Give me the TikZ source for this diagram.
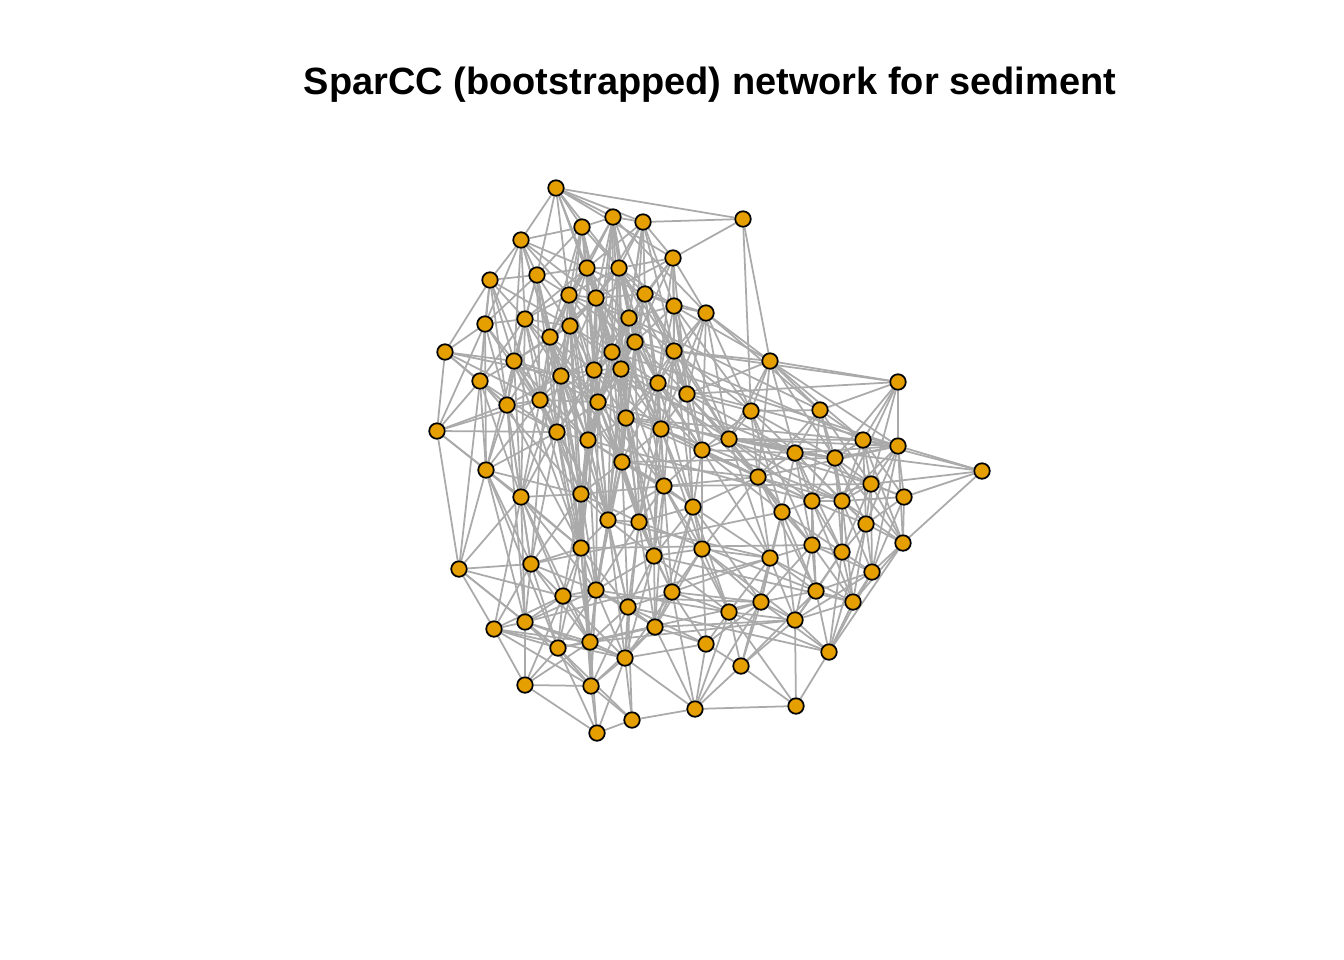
\documentclass[tikz,border=0pt]{standalone}
\usepackage{fontspec}
\setmainfont{Liberation Sans}
\usetikzlibrary{backgrounds}
\definecolor{vorange}{HTML}{E69F00}
\definecolor{egray}{HTML}{AAAAAA}

\begin{document}
\begin{tikzpicture}[x=0.01cm,y=-0.01cm,
    vertex/.style={circle,fill=vorange,draw=black,line width=0.5pt,inner sep=0pt,minimum size=0.155cm},
    edge/.style={egray,line width=0.5pt}]
  \useasboundingbox (0,0) rectangle (1344,960);
  \node[font=\bfseries\fontsize{10.8}{12}\selectfont,inner sep=0pt] (title) at (710,85) {SparCC (bootstrapped) network for sediment};
  % taxa
  \foreach \n/\x/\y in {1/556/188,2/743/219,3/613/217,4/643/222,5/582/227,6/521/240,7/673/258,8/587/268,9/619/268,10/537/275,
      11/490/280,12/569/295,13/596/298,14/645/294,15/674/306,16/706/313,17/525/319,18/570/326,19/485/324,20/629/318,
      21/550/337,22/635/342,23/612/352,24/674/351,25/445/352,26/514/361,27/770/361,28/594/370,29/621/369,30/561/376,
      31/480/381,32/658/383,33/898/382,34/540/400,35/507/405,36/598/402,37/687/394,38/626/418,39/751/411,40/820/410,
      41/437/431,42/557/432,43/588/440,44/661/429,45/729/439,46/863/440,47/898/446,48/702/450,49/795/453,50/835/458,
      51/622/462,52/486/470,53/758/477,54/982/471,55/871/484,56/664/486,57/581/494,58/521/497,59/904/497,60/812/501,
      61/842/501,62/693/507,63/782/512,64/608/520,65/639/522,66/866/524,67/581/548,68/702/549,69/654/556,70/812/545,
      71/842/552,72/903/543,73/770/558,74/459/569,75/531/564,76/872/572,77/596/590,78/563/596,79/672/592,80/816/591,
      81/761/602,82/853/602,83/628/607,84/729/612,85/494/629,86/525/622,87/655/627,88/795/620,89/590/642,90/558/648,
      91/706/644,92/625/658,93/829/652,94/741/666,95/525/685,96/591/686,97/695/709,98/796/706,99/632/720,100/597/733}
    \node[vertex] (n\n) at (\x,\y) {};
  % associations
  \begin{scope}[on background layer]
    \foreach \a/\b in {1/2,1/3,1/4,1/5,1/6,1/8,1/9,1/10,1/12,1/13,2/4,2/7,2/27,2/39,
        3/4,3/5,3/8,3/9,3/12,3/13,3/14,3/20,3/22,3/23,3/28,3/36,4/7,4/8,4/9,4/13,4/14,4/15,4/20,4/24,4/29,
        5/6,5/8,5/9,5/10,5/12,5/13,5/18,5/21,5/23,6/8,6/10,6/11,6/12,6/13,6/17,6/19,6/21,6/26,
        7/9,7/13,7/14,7/15,7/16,7/20,7/22,7/24,7/32,8/9,8/10,8/12,8/13,8/14,8/17,8/18,8/20,8/21,8/23,8/28,8/29,8/36,8/38,
        9/12,9/13,9/14,9/15,9/18,9/20,9/22,9/23,9/24,9/28,9/29,9/32,9/37,10/11,10/12,10/17,10/18,10/19,10/21,10/26,10/30,
        11/17,11/18,11/19,11/25,11/26,11/31,11/35,12/13,12/17,12/18,12/20,12/21,12/23,12/28,12/30,12/34,12/36,12/42,
        13/14,13/18,13/20,13/21,13/22,13/23,13/28,13/29,13/30,13/36,13/38,13/43,14/15,14/16,14/20,14/22,14/23,14/24,14/29,14/32,14/37,14/44,
        15/16,15/20,15/22,15/24,15/27,15/32,15/37,15/45,16/24,16/27,16/32,16/37,16/39,16/45,16/48,
        17/18,17/19,17/21,17/26,17/30,17/31,17/34,17/35,18/21,18/23,18/26,18/28,18/29,18/30,18/34,18/36,18/42,18/43,
        19/25,19/26,19/31,19/35,19/41,19/52,20/22,20/23,20/24,20/28,20/29,20/32,20/36,20/38,20/44,20/51,
        21/26,21/28,21/30,21/34,21/35,21/36,21/42,21/43,21/57,22/23,22/24,22/28,22/29,22/32,22/36,22/38,22/44,22/51,22/56,
        23/28,23/29,23/30,23/32,23/36,23/38,23/43,23/51,23/64,24/27,24/32,24/37,24/38,24/44,24/45,24/48,24/62,
        25/26,25/30,25/31,25/35,25/41,26/30,26/31,26/34,26/35,26/42,26/52,26/58,27/33,27/37,27/39,27/40,27/45,27/47,27/49,27/53,
        28/29,28/30,28/34,28/36,28/38,28/42,28/43,28/51,28/57,28/67,29/32,29/36,29/38,29/43,29/44,29/51,29/56,29/65,29/69,
        30/34,30/35,30/36,30/42,30/43,30/57,30/58,31/35,31/41,31/42,31/52,31/58,32/37,32/38,32/44,32/48,32/51,32/56,32/62,32/65,
        33/37,33/40,33/46,33/47,33/50,33/55,33/61,34/35,34/36,34/41,34/42,34/43,34/52,34/57,34/58,34/64,35/41,35/42,35/52,35/58,35/75,
        36/38,36/42,36/43,36/51,36/57,36/64,36/65,36/67,36/77,37/39,37/44,37/45,37/48,37/53,37/62,
        38/43,38/44,38/51,38/56,38/64,38/65,38/69,38/79,39/40,39/45,39/48,39/49,39/50,39/53,39/63,40/46,40/49,40/50,40/53,40/55,40/60,
        41/42,41/52,41/74,42/43,42/52,42/57,42/58,42/67,42/75,43/51,43/57,43/64,43/67,43/77,43/83,44/48,44/51,44/56,44/62,44/65,44/68,
        45/46,45/47,45/48,45/49,45/50,45/53,45/54,45/60,45/61,45/63,45/70,46/47,46/50,46/54,46/55,46/59,46/61,46/66,
        47/49,47/50,47/53,47/54,47/55,47/59,47/61,47/66,47/72,48/49,48/53,48/56,48/60,48/62,48/63,48/68,
        49/50,49/53,49/60,49/61,49/63,49/66,49/70,50/55,50/60,50/61,50/66,50/71,51/56,51/57,51/64,51/65,51/69,51/77,51/83,
        52/57,52/58,52/74,52/75,52/86,53/60,53/61,53/62,53/63,53/68,53/70,53/73,54/55,54/59,54/72,55/59,55/60,55/61,55/66,55/72,55/76,
        56/62,56/64,56/65,56/68,56/69,56/79,56/84,57/58,57/64,57/67,57/75,57/77,57/78,58/67,58/74,58/75,58/78,58/85,58/86,
        59/61,59/66,59/72,59/76,60/61,60/63,60/66,60/70,60/71,60/80,61/66,61/70,61/71,61/72,61/76,62/65,62/68,62/69,62/73,62/79,62/84,
        63/70,63/71,63/73,63/80,63/81,64/65,64/67,64/69,64/77,64/83,64/89,65/69,65/77,65/79,65/83,65/87,66/71,66/72,66/76,66/82,
        67/75,67/77,67/78,67/83,67/89,67/90,68/69,68/73,68/79,68/81,68/84,68/91,69/77,69/79,69/83,69/84,69/87,
        70/71,70/73,70/76,70/80,70/81,70/82,70/88,71/76,71/80,71/82,71/88,71/93,72/76,72/82,72/93,73/79,73/80,73/81,73/84,73/88,73/94,
        74/75,74/78,74/85,75/77,75/78,75/85,75/86,75/90,76/80,76/82,76/93,77/78,77/83,77/86,77/89,77/90,77/92,77/96,
        78/85,78/86,78/89,78/90,78/95,79/81,79/83,79/84,79/87,79/91,79/92,80/81,80/82,80/88,80/93,80/94,81/84,81/88,81/91,81/94,81/97,
        82/88,82/93,83/87,83/89,83/92,83/96,83/99,84/88,84/91,84/94,84/97,84/98,85/86,85/89,85/90,85/95,85/96,86/89,86/90,86/95,86/96,
        87/89,87/91,87/92,87/96,87/97,88/93,88/94,88/98,89/90,89/92,89/95,89/96,89/100,90/95,90/96,90/99,90/100,91/92,91/94,91/97,
        92/96,92/97,92/99,92/100,93/98,94/97,94/98,95/96,95/100,96/99,96/100,97/98,97/99,99/100,
        22/46,23/47,29/45,38/50,36/55,32/47,44/61,20/40,24/33,13/45,51/50,43/60,28/59,17/58,31/74,26/67,30/67,21/75,12/57,10/42,
        35/86,78/81,77/84,89/88,90/81,86/73,75/63,67/70,57/53,51/53,38/46,56/55,64/73,65/80,69/82,83/93,87/88,3/16,1/7,12/64,
        18/67,42/89,57/96,52/90,58/89,74/86,
        8/43,9/51,13/51,20/64,22/65,23/57,28/64,29/64,12/43,18/57,21/67,30/64,36/69,38/77,44/69,32/69,24/56,14/38,15/48,16/44,
        7/37,4/22,3/29,5/28,6/30,10/34,11/34,17/42,19/42,25/34,26/43,31/57,35/67,41/58,52/67,58/77,75/89,86/92,74/90,85/92,
        57/89,67/96,64/92,65/92,69/92,79/97,62/87,68/87,56/87,48/73,45/73,39/70,40/61,49/71,53/80,63/88,60/82,61/82,66/93,50/72,
        46/72,47/76,55/71,44/53,32/53,37/49,24/39,16/40,27/46,27/50,15/39,14/45,22/48,29/48,38/53,51/62,43/56,36/56,42/64,34/67,
        57/65,77/87,78/92,83/91,84/93,81/93,88/76,73/82,62/81,68/88,9/38,20/43,23/42,28/44,13/44,8/44,12/22,17/36,26/36,30/51,21/51}
      \draw[edge] (n\a) -- (n\b);
  \end{scope}
\end{tikzpicture}
\end{document}
